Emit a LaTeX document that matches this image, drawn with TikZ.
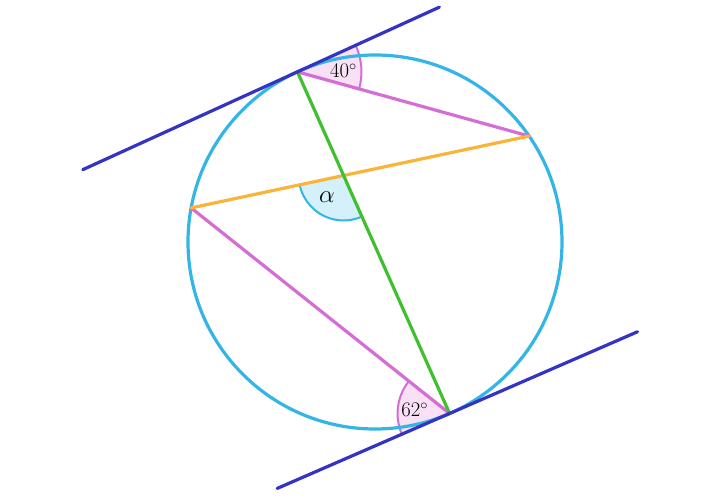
\documentclass[tikz,border=0pt]{standalone}
\usepackage{tikz}
\usetikzlibrary{calc}
\usetikzlibrary{angles}
\definecolor{circblue}{RGB}{52,181,229}
\definecolor{tanblue}{RGB}{52,52,196}
\definecolor{chordgreen}{RGB}{64,192,48}
\definecolor{chordorange}{RGB}{250,180,56}
\definecolor{orchid}{RGB}{212,110,212}
\definecolor{pinkfill}{RGB}{249,224,245}
\definecolor{cyanfill}{RGB}{212,240,251}

\begin{document}
\begin{tikzpicture}[x=1pt, y=1pt,
    thickline/.style={line width=3.2pt, line cap=round},
    wedge/.style={line width=2pt},
    anglelabel/.style={font=\huge, inner sep=0pt}]
\useasboundingbox (0,0) rectangle (720,500);

\coordinate (O)  at (375,258);
\coordinate (T1) at ($(O)+(114.5:187)$);
\coordinate (R)  at ($(O)+(34.5:187)$);
\coordinate (L)  at ($(O)+(169.5:187)$);
\coordinate (T2) at ($(O)+(293.5:187)$);
\coordinate (A1) at ($(T1)+(24.5:156)$);
\coordinate (A2) at ($(T1)+(204.5:236)$);
\coordinate (B1) at ($(T2)+(23.5:205)$);
\coordinate (B2) at ($(T2)+(203.5:188)$);
\coordinate (X)  at (intersection of T1--T2 and L--R);

% angle marks
\pic [wedge, draw=orchid, fill=pinkfill, angle radius=64pt] {angle=R--T1--A1};
\pic [wedge, draw=orchid, fill=pinkfill, angle radius=52pt] {angle=L--T2--B2};
\pic [wedge, draw=circblue, fill=cyanfill, angle radius=45pt] {angle=L--X--T2};

% circle and chords
\draw[thickline, circblue] (O) circle (187);
\draw[thickline, orchid] (T1) -- (R);
\draw[thickline, orchid] (L) -- (T2);
\draw[thickline, chordorange] (L) -- (R);
\draw[thickline, chordgreen] (T1) -- (T2);

% tangents
\draw[thickline, tanblue] (A2) -- (A1);
\draw[thickline, tanblue] (B2) -- (B1);

\node[anglelabel] (lab40) at ($(T1)+(1:46)$) {$40^\circ$};
\node[anglelabel] (lab62) at ($(T2)+(174:35)$) {$62^\circ$};
\node[anglelabel, font=\Huge] (labalpha) at ($(X)+(232:27)$) {$\alpha$};
\end{tikzpicture}
\end{document}
